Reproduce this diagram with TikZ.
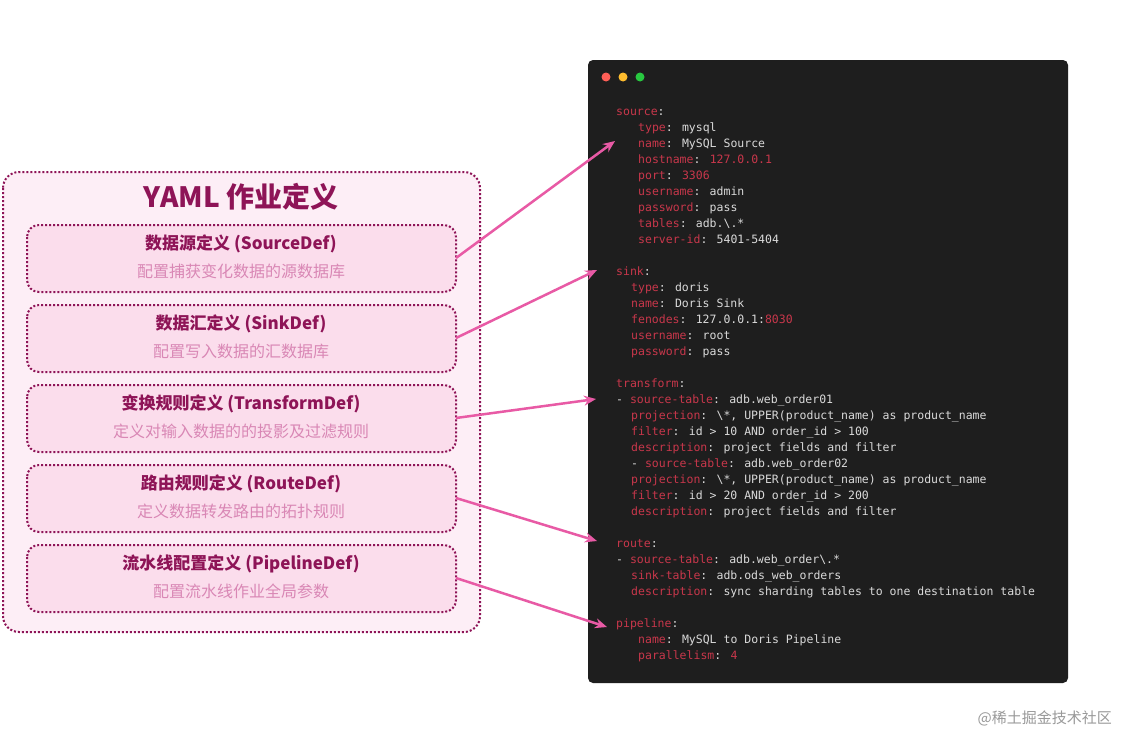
\documentclass[tikz,border=0pt]{standalone}
\usepackage{fontspec}
\newfontfamily\cjk{Noto Sans CJK SC}
\newcommand{\cjkb}{\cjk\bfseries}
\newfontfamily\mono{DejaVu Sans Mono}
\usetikzlibrary{arrows.meta}
\definecolor{keyc}{HTML}{C8374B}
\definecolor{valc}{HTML}{DADADA}
\definecolor{codebg}{HTML}{1E1E1E}
\definecolor{plum}{HTML}{8E1457}
\definecolor{subc}{HTML}{D987B5}
\definecolor{outerfill}{HTML}{FDEEF6}
\definecolor{innerfill}{HTML}{FBDDEC}
\definecolor{arr}{HTML}{E85AA5}
\definecolor{dotr}{HTML}{FF5F57}
\definecolor{doty}{HTML}{FEBC2E}
\definecolor{dotg}{HTML}{28C840}
\definecolor{wmc}{HTML}{999999}
\newcommand{\kk}[1]{\textcolor{keyc}{#1}}
\tikzset{
 code/.style={anchor=base west,inner sep=0pt,text=valc,font=\mono\fontsize{11.5}{12}\selectfont},
 defbox/.style={draw=plum,fill=innerfill,dotted,line width=2pt,rounded corners=12pt},
 ttl/.style={text=plum,font=\cjkb\fontsize{17}{20}\selectfont,inner sep=0pt},
 sub/.style={text=subc,font=\cjk\fontsize{16}{19}\selectfont,inner sep=0pt},
 link/.style={draw=arr,line width=2.5pt,-{Stealth[length=12pt,width=10pt]}}
}
\begin{document}
\begin{tikzpicture}[x=1pt,y=-1pt]
\useasboundingbox (0,0) rectangle (1132,750);
\fill[white] (0,0) rectangle (1132,750);
% code window
\fill[codebg,rounded corners=5pt] (588,60) rectangle (1068,683);
\fill[dotr] (606,77) circle (4.5);
\fill[doty] (623,77) circle (4.5);
\fill[dotg] (640,77) circle (4.5);
\node[code] (s0) at (616,115) {\kk{source}:};
\node[code] (s1) at (638,131) {\kk{type}: mysql};
\node[code] (s2) at (638,147) {\kk{name}: MySQL Source};
\node[code] (s3) at (638,163) {\kk{hostname}: \kk{127.0.0.1}};
\node[code] (s4) at (638,179) {\kk{port}: \kk{3306}};
\node[code] (s5) at (638,195) {\kk{username}: admin};
\node[code] (s6) at (638,211) {\kk{password}: pass};
\node[code] (s7) at (638,227) {\kk{tables}: adb.\textbackslash.*};
\node[code] (s8) at (638,243) {\kk{server-id}: 5401-5404};
\node[code] (k0) at (616,275) {\kk{sink}:};
\node[code] (k1) at (631,291) {\kk{type}: doris};
\node[code] (k2) at (631,307) {\kk{name}: Doris Sink};
\node[code] (k3) at (631,323) {\kk{fenodes}: 127.0.0.1:\kk{8030}};
\node[code] (k4) at (631,339) {\kk{username}: root};
\node[code] (k5) at (631,355) {\kk{password}: pass};
\node[code] (t0) at (616,387) {\kk{transform}:};
\node[code] (t1) at (616,403) {- \kk{source-table}: adb.web\_order01};
\node[code] (t2) at (631,419) {\kk{projection}: \textbackslash*, UPPER(product\_name) as product\_name};
\node[code] (t3) at (631,435) {\kk{filter}: id > 10 AND order\_id > 100};
\node[code] (t4) at (631,451) {\kk{description}: project fields and filter};
\node[code] (t5) at (631,467) {- \kk{source-table}: adb.web\_order02};
\node[code] (t6) at (631,483) {\kk{projection}: \textbackslash*, UPPER(product\_name) as product\_name};
\node[code] (t7) at (631,499) {\kk{filter}: id > 20 AND order\_id > 200};
\node[code] (t8) at (631,515) {\kk{description}: project fields and filter};
\node[code] (r0) at (616,547) {\kk{route}:};
\node[code] (r1) at (616,563) {- \kk{source-table}: adb.web\_order\textbackslash.*};
\node[code] (r2) at (631,579) {\kk{sink-table}: adb.ods\_web\_orders};
\node[code] (r3) at (631,595) {\kk{description}: sync sharding tables to one destination table};
\node[code] (p0) at (616,627) {\kk{pipeline}:};
\node[code] (p1) at (638,643) {\kk{name}: MySQL to Doris Pipeline};
\node[code] (p2) at (638,659) {\kk{parallelism}: \kk{4}};
% left panel
\draw[draw=plum,fill=outerfill,dotted,line width=2pt,rounded corners=16pt] (3,172) rectangle (480,632);
\node[text=plum,font=\cjkb\fontsize{28}{32}\selectfont,inner sep=0pt] (title) at (241,197) {YAML 作业定义};
\foreach \n/\y/\a/\b in {b1/225/数据源定义 (SourceDef)/配置捕获变化数据的源数据库,
 b2/305/数据汇定义 (SinkDef)/配置写入数据的汇数据库,
 b3/385/变换规则定义 (TransformDef)/定义对输入数据的的投影及过滤规则,
 b4/465/路由规则定义 (RouteDef)/定义数据转发路由的拓扑规则,
 b5/545/流水线配置定义 (PipelineDef)/配置流水线作业全局参数}{
 \draw[defbox] (27,\y) rectangle (456,\y+67);
 \coordinate (\n) at (456,\y+33);
 \node[ttl] (\n t) at (241,\y+19) {\a};
 \node[sub] (\n s) at (241,\y+46) {\b};
}
\coordinate (e1) at (615,141);
\coordinate (e2) at (597,270);
\coordinate (e3) at (596,399);
\coordinate (e4) at (597,541);
\coordinate (e5) at (607,627);
\draw[link] (b1) -- (e1);
\draw[link] (b2) -- (e2);
\draw[link] (b3) -- (e3);
\draw[link] (b4) -- (e4);
\draw[link] (b5) -- (e5);
\node[text=wmc,font=\cjk\fontsize{15}{18}\selectfont,anchor=east,inner sep=0pt] (wm) at (1112,718) {@稀土掘金技术社区};
\end{tikzpicture}
\end{document}
